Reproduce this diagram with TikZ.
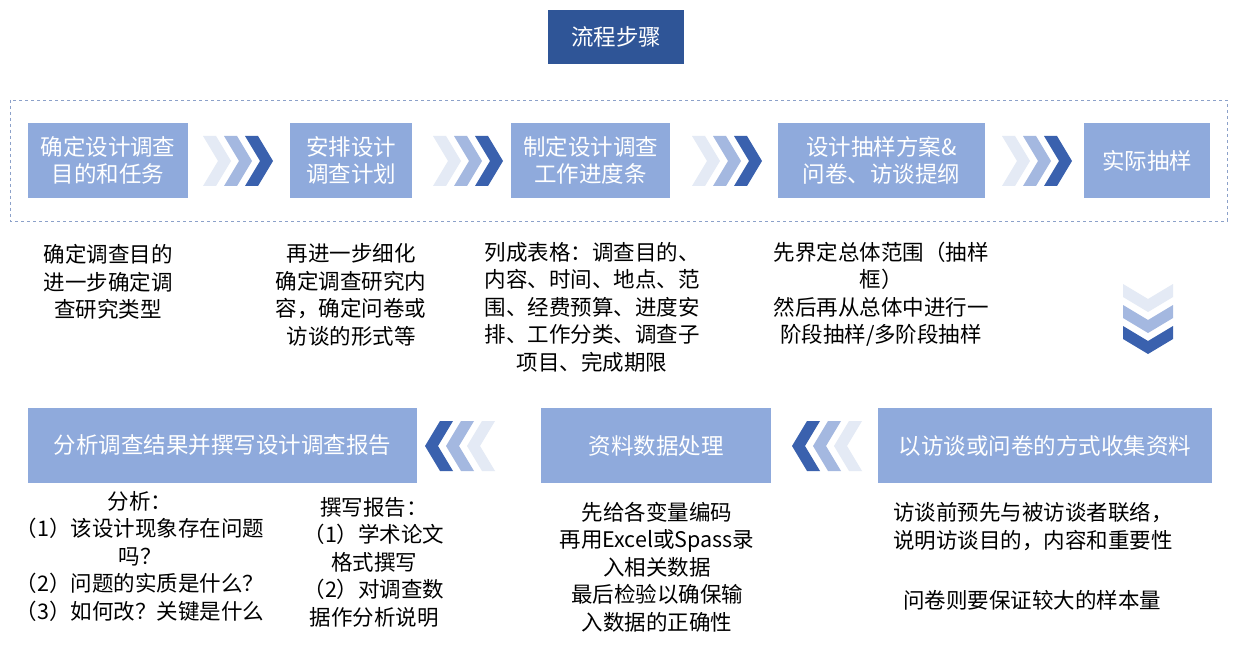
\documentclass[tikz,border=0pt]{standalone}
\usepackage{fontspec}
\setmainfont{Noto Sans CJK SC}
\definecolor{boxc}{HTML}{8FAADC}
\definecolor{titlec}{HTML}{2F5597}
\definecolor{c1}{HTML}{E4EAF5}
\definecolor{c2}{HTML}{A4B8E0}
\definecolor{c3}{HTML}{3A61AE}
\tikzset{
 stepbox/.style={fill=boxc,text=white,align=center,inner sep=0pt,font=\fontsize{22.5}{27}\selectfont},
 desc/.style={align=center,font=\fontsize{21.5}{27.5}\selectfont,inner sep=0pt},
 chevs/.pic={
  \foreach \i/\c in {0/c1,1/c2,2/c3}{
   \fill[\c] ({\i*21},0) -- ({\i*21+13},0) -- ({\i*21+28},25) -- ({\i*21+13},50) -- ({\i*21},50) -- ({\i*21+15},25) -- cycle;}
 }
}
\begin{document}
\begin{tikzpicture}[x=1pt,y=-1pt]
\useasboundingbox[fill=white] (0,0) rectangle (1237,647);
\node[fill=titlec,text=white,minimum width=136,minimum height=54,inner sep=0pt,font=\fontsize{22.5}{27}\selectfont] (title) at (616,37) {流程步骤};
\draw[boxc!80!gray,dashed,line width=0.8] (10,100) rectangle (1227,221);
% top boxes
\node[stepbox,minimum width=160,minimum height=75] (b1) at (108,160.5) {确定设计调查\\目的和任务};
\node[stepbox,minimum width=122,minimum height=75] (b2) at (351,160.5) {安排设计\\调查计划};
\node[stepbox,minimum width=159,minimum height=75] (b3) at (590.5,160.5) {制定设计调查\\工作进度条};
\node[stepbox,minimum width=207,minimum height=75] (b4) at (881.5,160.5) {设计抽样方案\&\\问卷、访谈提纲};
\node[stepbox,minimum width=126,minimum height=75] (b5) at (1147,160.5) {实际抽样};
\pic at (203,136) {chevs};
\pic at (433,136) {chevs};
\pic at (692,136) {chevs};
\pic at (1002,136) {chevs};
\pic[rotate=-90] at (1173,284) {chevs};
% top descriptions
\node[desc] (d1) at (108,282) {确定调查目的\\进一步确定调\\查研究类型};
\node[desc] (d2) at (351,295) {再进一步细化\\确定调查研究内\\容，确定问卷或\\访谈的形式等};
\node[desc] (d3) at (592,307) {列成表格：调查目的、\\内容、时间、地点、范\\围、经费预算、进度安\\排、工作分类、调查子\\项目、完成期限};
\node[desc] (d4) at (881,294) {先界定总体范围（抽样\\框）\\然后再从总体中进行一\\阶段抽样/多阶段抽样};
% bottom boxes
\node[stepbox,minimum width=389,minimum height=75] (a) at (222.5,445.5) {分析调查结果并撰写设计调查报告};
\node[stepbox,minimum width=230,minimum height=75] (b) at (656,445.5) {资料数据处理};
\node[stepbox,minimum width=334,minimum height=75] (c) at (1045,445.5) {以访谈或问卷的方式收集资料};
\pic[xscale=-1] at (495,421) {chevs};
\pic[xscale=-1] at (862,421) {chevs};
% bottom descriptions
\node[desc] (e1) at (140,556) {分析：\\（1）该设计现象存在问题\\吗？\\（2）问题的实质是什么？\\（3）如何改？关键是什么};
\node[desc] (e2) at (374,562) {撰写报告：\\（1）学术论文\\格式撰写\\（2）对调查数\\据作分析说明};
\node[desc] (e3) at (657,567) {先给各变量编码\\再用Excel或Spass录\\入相关数据\\最后检验以确保输\\入数据的正确性};
\node[desc,align=left,anchor=north west] (e4) at (893,502) {访谈前预先与被访谈者联络，\\说明访谈目的，内容和重要性};
\node[desc,anchor=west] (e5) at (903,600) {问卷则要保证较大的样本量};
\end{tikzpicture}
\end{document}
